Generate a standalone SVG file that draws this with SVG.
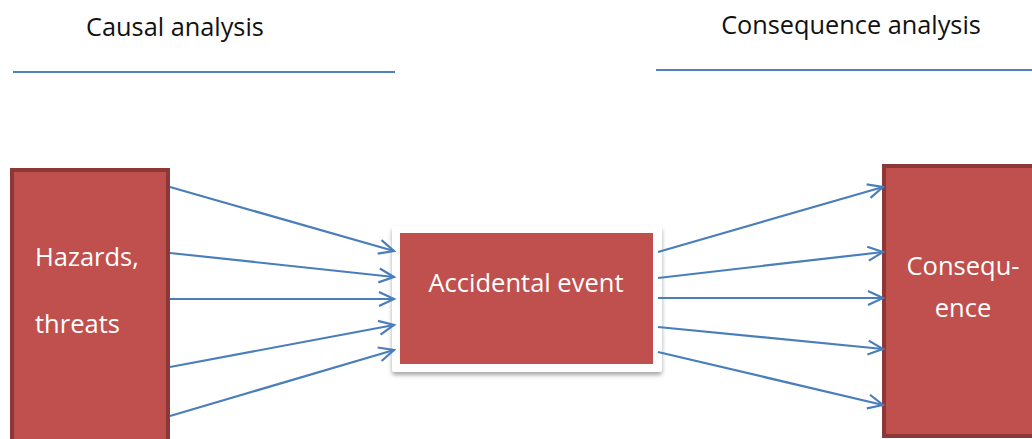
<svg xmlns="http://www.w3.org/2000/svg" width="1032" height="439" viewBox="0 0 1032 439">
<style>
.box{fill:#C0504D;stroke:#8C3836;stroke-width:4}
.lbl{font-family:"Open Sans","Liberation Sans",sans-serif;font-size:25.5px;fill:#FFFFFF}
.hdr{font-family:"Open Sans","Liberation Sans",sans-serif;font-size:25.3px;fill:#111111}
.rule{stroke:#4F81BD;stroke-width:2}
.arr{stroke:#4A7EBB;stroke-width:2.2;fill:none;marker-end:url(#ah)}
</style>
<defs>
<marker id="ah" markerUnits="userSpaceOnUse" markerWidth="20" markerHeight="20" viewBox="-16 -10 20 20" refX="0" refY="0" orient="auto">
<path d="M-15,-7 L0,0 L-15,7" fill="none" stroke="#4A7EBB" stroke-width="2.2"/>
</marker>
<filter id="sh" x="-10%" y="-10%" width="120%" height="130%">
<feDropShadow dx="0" dy="3" stdDeviation="2" flood-color="#000" flood-opacity="0.35"/>
</filter>
</defs>
<rect width="1032" height="439" fill="#FFFFFF"/>
<g id="header-causal">
<text class="hdr" x="175" y="36" text-anchor="middle">Causal analysis</text>
<line class="rule" x1="13" y1="72" x2="395" y2="72"/>
</g>
<g id="header-consequence">
<text class="hdr" x="851" y="34" text-anchor="middle">Consequence analysis</text>
<line class="rule" x1="656" y1="70" x2="1032" y2="70"/>
</g>
<g id="hazards">
<rect class="box" x="12" y="170" width="156" height="300"/>
<text class="lbl" x="35" y="266">Hazards,</text>
<text class="lbl" x="35" y="333">threats</text>
</g>
<g id="accidental-event">
<rect x="392" y="226" width="270" height="146" rx="3" fill="#FFFFFF" filter="url(#sh)"/>
<rect x="400" y="233" width="253" height="131" fill="#C0504D"/>
<text class="lbl" x="526" y="292" text-anchor="middle">Accidental event</text>
</g>
<g id="consequence">
<rect class="box" x="884" y="166" width="170" height="270"/>
<text class="lbl" x="963" y="275" text-anchor="middle">Consequ-</text>
<text class="lbl" x="963" y="317" text-anchor="middle">ence</text>
</g>
<g id="connectors">
<line class="arr" x1="170" y1="187" x2="394" y2="251"/>
<line class="arr" x1="170" y1="253" x2="394" y2="277"/>
<line class="arr" x1="170" y1="299" x2="394" y2="299"/>
<line class="arr" x1="170" y1="367" x2="394" y2="325"/>
<line class="arr" x1="170" y1="416" x2="394" y2="350"/>
<line class="arr" x1="658" y1="252" x2="883" y2="187"/>
<line class="arr" x1="658" y1="278" x2="883" y2="252"/>
<line class="arr" x1="658" y1="298" x2="883" y2="298"/>
<line class="arr" x1="658" y1="327" x2="883" y2="349"/>
<line class="arr" x1="658" y1="352" x2="883" y2="405"/>
</g>
</svg>
